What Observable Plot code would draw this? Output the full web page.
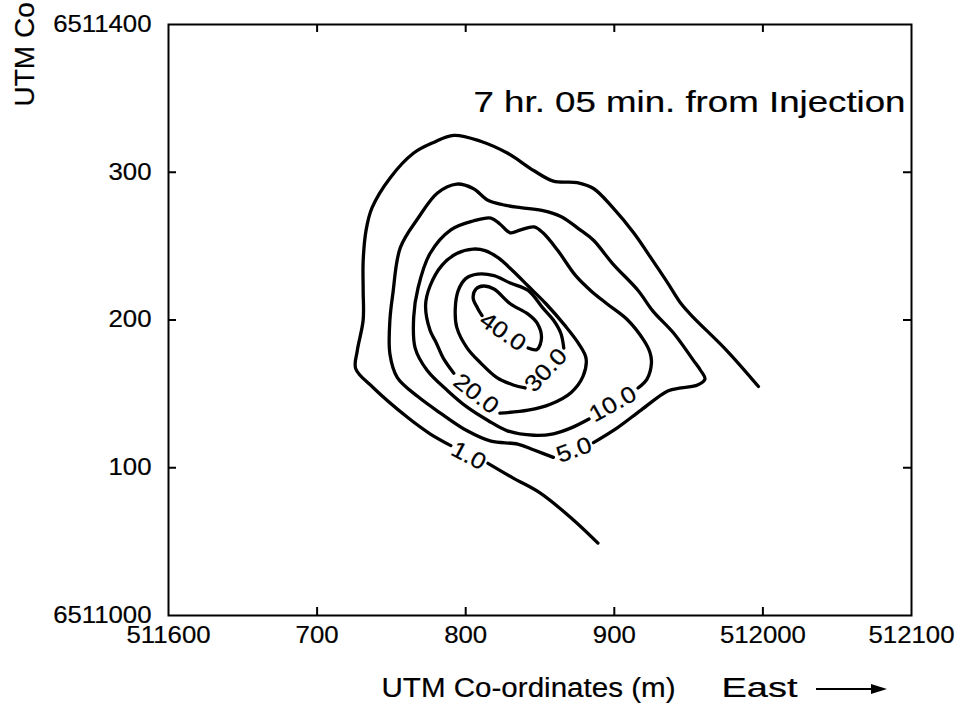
<!DOCTYPE html>
<html><head><meta charset="utf-8">
<script src="https://cdn.jsdelivr.net/npm/d3@7"></script>
<script src="https://cdn.jsdelivr.net/npm/@observablehq/plot@0.6"></script>
<style>
body{margin:0;background:#fff;}
#chart svg{display:block;}
#chart svg text{stroke:black;stroke-width:0.2px;}
</style></head><body><div id="chart"></div>
<script>
// ---- axes ----
const xTicks = [511600, 511700, 511800, 511900, 512000, 512100];
const xTickLabels = ["511600", "700", "800", "900", "512000", "512100"];
const yTicks = [6511000, 6511100, 6511200, 6511300, 6511400];
const yTickLabels = ["6511000", "100", "200", "300", "6511400"];

// ---- contour lines, [east, north] (m), broken where the labels sit ----
const contour1a = [[511815,6511103],[511832,6511093],[511850,6511083],[511871,6511066],[511889,6511049]];
const contour1b = [[511790,6511115],[511776,6511123],[511761,6511134],[511738,6511154],[511726,6511167],[511727,6511179],[511731,6511200],[511731,6511220],[511731,6511240],[511733,6511261],[511737,6511276],[511749,6511296],[511765,6511313],[511778,6511320],[511792,6511325],[511810,6511321],[511828,6511313],[511846,6511301],[511859,6511294],[511875,6511293],[511886,6511289],[511899,6511276],[511913,6511259],[511926,6511240],[511936,6511225],[511945,6511211],[511953,6511202],[511976,6511179],[511997,6511155]];
const contour5 = [[511886,6511117],[511902,6511127],[511918,6511139],[511936,6511152],[511945,6511154],[511956,6511156],[511961,6511160],[511958,6511166],[511953,6511173],[511940,6511191],[511926,6511206],[511916,6511220],[511899,6511238],[511886,6511254],[511877,6511261],[511864,6511270],[511852,6511274],[511837,6511276],[511825,6511278],[511815,6511281],[511805,6511289],[511794,6511292],[511781,6511286],[511768,6511269],[511756,6511249],[511751,6511218],[511749,6511200],[511749,6511177],[511754,6511161],[511768,6511148],[511783,6511137],[511801,6511125],[511817,6511118],[511835,6511116],[511846,6511112],[511859,6511107]];
const contour10 = [[511916,6511154],[511922,6511160],[511925,6511171],[511924,6511178],[511920,6511186],[511909,6511200],[511895,6511211],[511884,6511220],[511874,6511230],[511862,6511247],[511852,6511259],[511846,6511263],[511837,6511261],[511830,6511259],[511823,6511265],[511817,6511269],[511805,6511267],[511790,6511261],[511776,6511245],[511768,6511222],[511765,6511202],[511766,6511181],[511774,6511166],[511788,6511152],[511801,6511141],[511815,6511132],[511828,6511125],[511846,6511122],[511859,6511123],[511871,6511127],[511883,6511133]];
const contour20 = [[511823,6511137],[511842,6511139],[511857,6511143],[511871,6511151],[511879,6511162],[511881,6511174],[511876,6511184],[511867,6511196],[511854,6511211],[511842,6511223],[511832,6511233],[511822,6511242],[511813,6511247],[511805,6511248],[511794,6511245],[511784,6511237],[511776,6511223],[511773,6511210],[511776,6511193],[511780,6511185],[511785,6511174],[511792,6511164]];
const contour30 = [[511866,6511181],[511864,6511191],[511859,6511200],[511852,6511208],[511842,6511220],[511830,6511225],[511819,6511230],[511808,6511231],[511800,6511228],[511795,6511220],[511793,6511208],[511794,6511195],[511801,6511181],[511810,6511171],[511821,6511161],[511832,6511156],[511840,6511154]];
const contour40 = [[511842,6511181],[511848,6511180],[511851,6511188],[511848,6511198],[511842,6511204],[511830,6511211],[511819,6511221],[511812,6511223],[511807,6511221],[511805,6511215],[511808,6511208],[511811,6511203]];

// ---- contour labels ----
const labelText  = ["1.0", "5.0", "10.0", "20.0", "30.0", "40.0"];
const labelEast  = [511802, 511873, 511899, 511807, 511854, 511825];
const labelNorth = [6511108, 6511112, 6511143, 6511150, 6511166, 6511192];
const labelAngle = [28, -20, -29, 38, -47, 35];

const titleText = "7 hr. 05 min. from Injection";
const xLabelText = "UTM Co-ordinates (m)";
const xLabelDir = "East";
const yLabelText = "UTM Co";

// ---- build tables ----
const segments = [contour1a, contour1b, contour5, contour10, contour20, contour30, contour40];
const lineData = segments.flatMap((pts, i) => pts.map(([e, n]) => ({seg: i, e, n})));
const labelData = labelText.map((t, i) => ({t, e: labelEast[i], n: labelNorth[i], a: labelAngle[i]}));

const W = 961, H = 704, mL = 168, mR = 50, mT = 24, mB = 89;
const innerH = H - mT - mB;
const innerW = W - mL - mR;
const font = "'Liberation Sans', Arial, Helvetica, sans-serif";

const chart = Plot.plot({
  width: W, height: H,
  marginLeft: mL, marginRight: mR, marginTop: mT, marginBottom: mB,
  x: {domain: [511600, 512100]},
  y: {domain: [6511000, 6511400]},
  style: {fontFamily: font, fontSize: "23px", color: "black", background: "white"},
  marks: [
    Plot.frame({stroke: "black", strokeWidth: 2}),
    // inward ticks on all four sides
    Plot.tickX(xTicks.slice(1, -1), {x: d => d, insetTop: innerH - 8, stroke: "black", strokeWidth: 2}),
    Plot.tickX(xTicks.slice(1, -1), {x: d => d, insetBottom: innerH - 8, stroke: "black", strokeWidth: 2}),
    Plot.tickY(yTicks.slice(1, -1), {y: d => d, insetRight: innerW - 8, stroke: "black", strokeWidth: 2}),
    Plot.tickY(yTicks.slice(1, -1), {y: d => d, insetLeft: innerW - 8, stroke: "black", strokeWidth: 2}),
    Plot.axisX(xTicks, {anchor: "bottom", tickSize: 0, tickPadding: 11, label: null,
      tickFormat: d => xTickLabels[xTicks.indexOf(d)], fontSize: 23}),
    Plot.axisY(yTicks, {anchor: "left", tickSize: 0, tickPadding: 17, label: null,
      tickFormat: d => yTickLabels[yTicks.indexOf(d)], fontSize: 23}),
    // contours
    Plot.line(lineData, {x: "e", y: "n", z: "seg", stroke: "black", strokeWidth: 3.3,
      curve: "catmull-rom", strokeLinejoin: "round", strokeLinecap: "round"}),
    Plot.text(labelData, {x: "e", y: "n", text: "t", rotate: "a", fontSize: 23, fill: "black"}),
    // title in the frame
    Plot.text([titleText], {frameAnchor: "top-right", dx: -6, dy: 78, textAnchor: "end",
      lineAnchor: "middle", fontSize: 29, fill: "black"}),
    // x axis label
    Plot.text([xLabelText], {frameAnchor: "bottom-left", dx: 528 - mL, dy: 73, textAnchor: "middle",
      lineAnchor: "middle", fontSize: 27, fill: "black"}),
    Plot.text([xLabelDir], {frameAnchor: "bottom-left", dx: 759 - mL, dy: 73, textAnchor: "middle",
      lineAnchor: "middle", fontSize: 27, fill: "black"}),
    // y axis label (only its start is visible in the original)
    Plot.text([yLabelText], {frameAnchor: "top-left", dx: 25 - mL, dy: 106 - mT, rotate: -90,
      textAnchor: "start", lineAnchor: "middle", fontSize: 28, fill: "black"})
  ]
});
document.getElementById("chart").appendChild(chart);

// horizontal stretch of the lettering, as in the source figure
const svg = d3.select(chart);
svg.selectAll("text").each(function() {
  const t = this.textContent;
  if (t === yLabelText) return;
  const L = this.getComputedTextLength();
  let target = L * 1.12;
  if (t === titleText) target = 432;
  if (t === xLabelText) target = 294;
  if (t === xLabelDir) target = 76;
  this.setAttribute("textLength", target);
  this.setAttribute("lengthAdjust", "spacingAndGlyphs");
});
// arrow after "East"
svg.append("line").attr("x1", 816).attr("x2", 874).attr("y1", 689).attr("y2", 689)
  .attr("stroke", "black").attr("stroke-width", 2.2);
svg.append("path").attr("d", "M871,684 L887,689 L871,694 Z").attr("fill", "black");
</script></body></html>
